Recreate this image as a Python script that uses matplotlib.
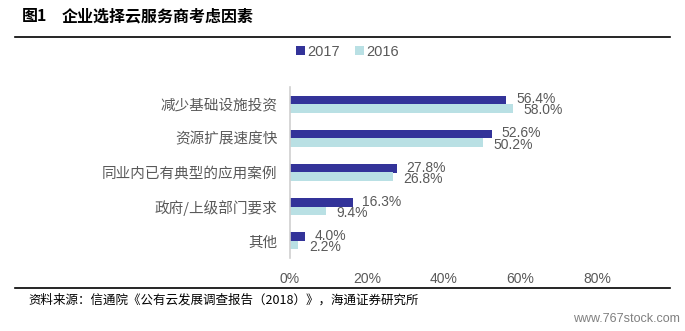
import matplotlib
matplotlib.use('Agg')
import matplotlib.pyplot as plt
import numpy as np

plt.rcParams['font.family'] = ['Liberation Sans', 'Noto Sans CJK SC', 'DejaVu Sans']

# chart data
categories = ['减少基础设施投资', '资源扩展速度快', '同业内已有典型的应用案例',
              '政府/上级部门要求', '其他']
values_2017 = [56.4, 52.6, 27.8, 16.3, 4.0]
values_2016 = [58.0, 50.2, 26.8, 9.4, 2.2]
xticks = [0, 20, 40, 60, 80]

dark = '#333399'
light = '#B9E0E4'
text_gray = '#595959'

fig = plt.figure(figsize=(6.85, 3.31), dpi=100)
ax = fig.add_axes([290 / 685, 1 - 258 / 331, 307 / 685, 171 / 331])

y = np.arange(len(categories))
h = 0.25
b17 = ax.barh(y - h / 2, values_2017, height=h, color=dark, label='2017')
b16 = ax.barh(y + h / 2, values_2016, height=h, color=light, label='2016')

# value labels (they sit close together, as in the original)
for rect, v in zip(b17, values_2017):
    ax.annotate(f'{v:.1f}%', (rect.get_width(), rect.get_y() + rect.get_height() / 2),
                xytext=(7, 0.5), textcoords='offset points', va='center', ha='left',
                fontsize=10, color=text_gray)
for rect, v in zip(b16, values_2016):
    ax.annotate(f'{v:.1f}%', (rect.get_width(), rect.get_y() + rect.get_height() / 2),
                xytext=(7.5, -1.5), textcoords='offset points', va='center', ha='left',
                fontsize=10, color=text_gray)

ax.set_ylim(len(categories) - 0.5, -0.5)
ax.set_xlim(0, 80)
ax.set_yticks(y)
ax.set_yticklabels(categories, fontsize=10.5, color=text_gray,
                   family=['Noto Sans CJK SC', 'DejaVu Sans'])
ax.set_xticks(xticks)
ax.set_xticklabels([f'{t}%' for t in xticks], fontsize=10, color=text_gray)
ax.tick_params(axis='both', length=0)
ax.tick_params(axis='y', pad=9)
ax.tick_params(axis='x', pad=10)
for s in ['top', 'right', 'bottom']:
    ax.spines[s].set_visible(False)
ax.spines['left'].set_color('#D0D0D0')
ax.spines['left'].set_linewidth(1.2)

leg = fig.legend(handles=[b17, b16], loc='center left', bbox_to_anchor=(296 / 685, 1 - 52 / 331),
                 ncol=2, frameon=False, fontsize=10.5, handlelength=0.6, handleheight=0.6,
                 handletextpad=0.2, columnspacing=1.0, borderaxespad=0, borderpad=0)
for t in leg.get_texts():
    t.set_color(text_gray)

# title, rules, source
fig.text(22 / 685, 1 - 16 / 331, '图1', fontsize=11.5, fontweight='bold',
         va='center', ha='left', family=['Noto Sans CJK SC', 'DejaVu Sans'])
fig.text(62 / 685, 1 - 16 / 331, '企业选择云服务商考虑因素', fontsize=11.5, fontweight='bold',
         va='center', ha='left', family=['Noto Sans CJK SC', 'DejaVu Sans'])
fig.add_artist(plt.Line2D([15 / 685, 670 / 685], [1 - 37 / 331] * 2, color='black', lw=1.2))
fig.add_artist(plt.Line2D([15 / 685, 670 / 685], [1 - 288 / 331] * 2, color='black', lw=1.2))
fig.text(28 / 685, 1 - 300 / 331, '资料来源：信通院《公有云发展调查报告（2018）》，海通证券研究所',
         fontsize=9, va='center', ha='left', family=['Noto Sans CJK SC', 'DejaVu Sans'])
fig.text(680 / 685, 1 - 319 / 331, 'www.767stock.com', fontsize=9, color='#808080',
         va='center', ha='right')

fig.savefig('out.png', dpi=100)
